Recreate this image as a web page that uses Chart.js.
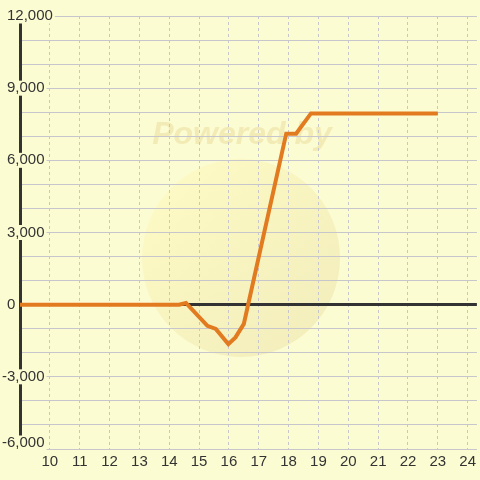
<!DOCTYPE html>
<html>
<head>
<meta charset="utf-8">
<script src="https://cdn.jsdelivr.net/npm/chart.js@4/dist/chart.umd.min.js"></script>
<style>
  html, body { margin: 0; padding: 0; background: #fcfcd3; }
  #wrap { width: 480px; height: 480px; }
</style>
</head>
<body>
<div id="wrap"><canvas id="chart" width="480" height="480"></canvas></div>
<script>
// series (hour of day -> value)
const hours  = [9, 14.33, 14.56, 15.28, 15.56, 15.98, 16.22, 16.5, 17.92, 18.25, 18.75, 23.0];
const values = [0, 0, 70, -880, -1010, -1640, -1360, -800, 7110, 7110, 7950, 7950];

// axes
const xMin = 9, xMax = 24.31, xStep = 1;
const yMin = -6000, yMax = 12000, yStep = 1000, yLabelStep = 3000;

const BG = '#fcfcd3';
const GRID = '#c6c6cc';
const TEXT = '#333333';
const LINE = '#e27a20';
const FONT = '"Liberation Sans", Arial, sans-serif';

// faint "Powered by" watermark behind the grid
const watermark = {
    id: 'watermark',
    beforeDraw(chart) {
        const ctx = chart.ctx;
        ctx.save();
        ctx.fillStyle = BG;
        ctx.fillRect(0, 0, chart.width, chart.height);
        const g = ctx.createLinearGradient(170, 180, 320, 340);
        g.addColorStop(0, 'rgba(255,248,185,0.55)');
        g.addColorStop(1, 'rgba(232,222,160,0.45)');
        ctx.beginPath();
        ctx.arc(241, 258, 99, 0, Math.PI * 2);
        ctx.fillStyle = g;
        ctx.fill();
        ctx.font = 'italic bold 32px ' + FONT;
        ctx.fillStyle = 'rgba(230,215,145,0.45)';
        ctx.textAlign = 'center';
        ctx.textBaseline = 'middle';
        ctx.fillText('Powered by', 242, 135);
        ctx.restore();
    }
};

// minus signs hang left of the digits, bottom label sits a bit above its line
const labelNudge = {
    id: 'labelNudge',
    beforeDraw(chart) {
        const bottom = yMin.toLocaleString('en-US');
        chart.scales.y.getLabelItems(chart.chartArea).forEach(it => {
            if (it._nudged) return;
            it._nudged = true;
            const t = it.options.translation;
            if (String(it.label).startsWith('-')) t[0] -= 5;
            if (it.label === bottom) t[1] -= 6;
        });
    }
};

new Chart(document.getElementById('chart'), {
    type: 'line',
    data: {
        datasets: [{
            data: hours.map((h, i) => ({ x: h, y: values[i] })),
            borderColor: LINE,
            borderWidth: 4,
            pointRadius: 0,
            tension: 0,
            fill: false
        }]
    },
    options: {
        responsive: false,
        animation: false,
        devicePixelRatio: 1,
        layout: { padding: { left: 20, top: 16, right: 0, bottom: 5 } },
        plugins: { legend: { display: false }, tooltip: { enabled: false } },
        scales: {
            x: {
                type: 'linear', min: xMin, max: xMax,
                grid: { color: GRID, lineWidth: 1, drawTicks: false },
                border: { display: false, dash: [3, 3] },
                ticks: {
                    stepSize: xStep, includeBounds: false, autoSkip: false, maxRotation: 0,
                    padding: 4, color: TEXT, font: { size: 15, family: FONT },
                    callback: v => v === xMin ? '' : String(v)
                }
            },
            y: {
                min: yMin, max: yMax,
                afterFit: s => { s.width = 0; },
                grid: {
                    color: c => c.tick.value === 0 ? '#333333' : GRID,
                    lineWidth: c => c.tick.value === 0 ? 3 : 1,
                    drawTicks: false
                },
                border: { display: true, color: '#333333', width: 3 },
                ticks: {
                    stepSize: yStep, autoSkip: false, mirror: true, padding: -13,
                    color: TEXT, font: { size: 15, family: FONT, lineHeight: 1 },
                    callback: v => v % yLabelStep === 0 ? v.toLocaleString('en-US') : '',
                    showLabelBackdrop: c => c.tick.value % yLabelStep === 0 && c.tick.value !== 0,
                    backdropColor: BG,
                    backdropPadding: { left: 1, right: 2, top: 0, bottom: 0 }
                }
            }
        }
    },
    plugins: [watermark, labelNudge]
});
</script>
</body>
</html>
